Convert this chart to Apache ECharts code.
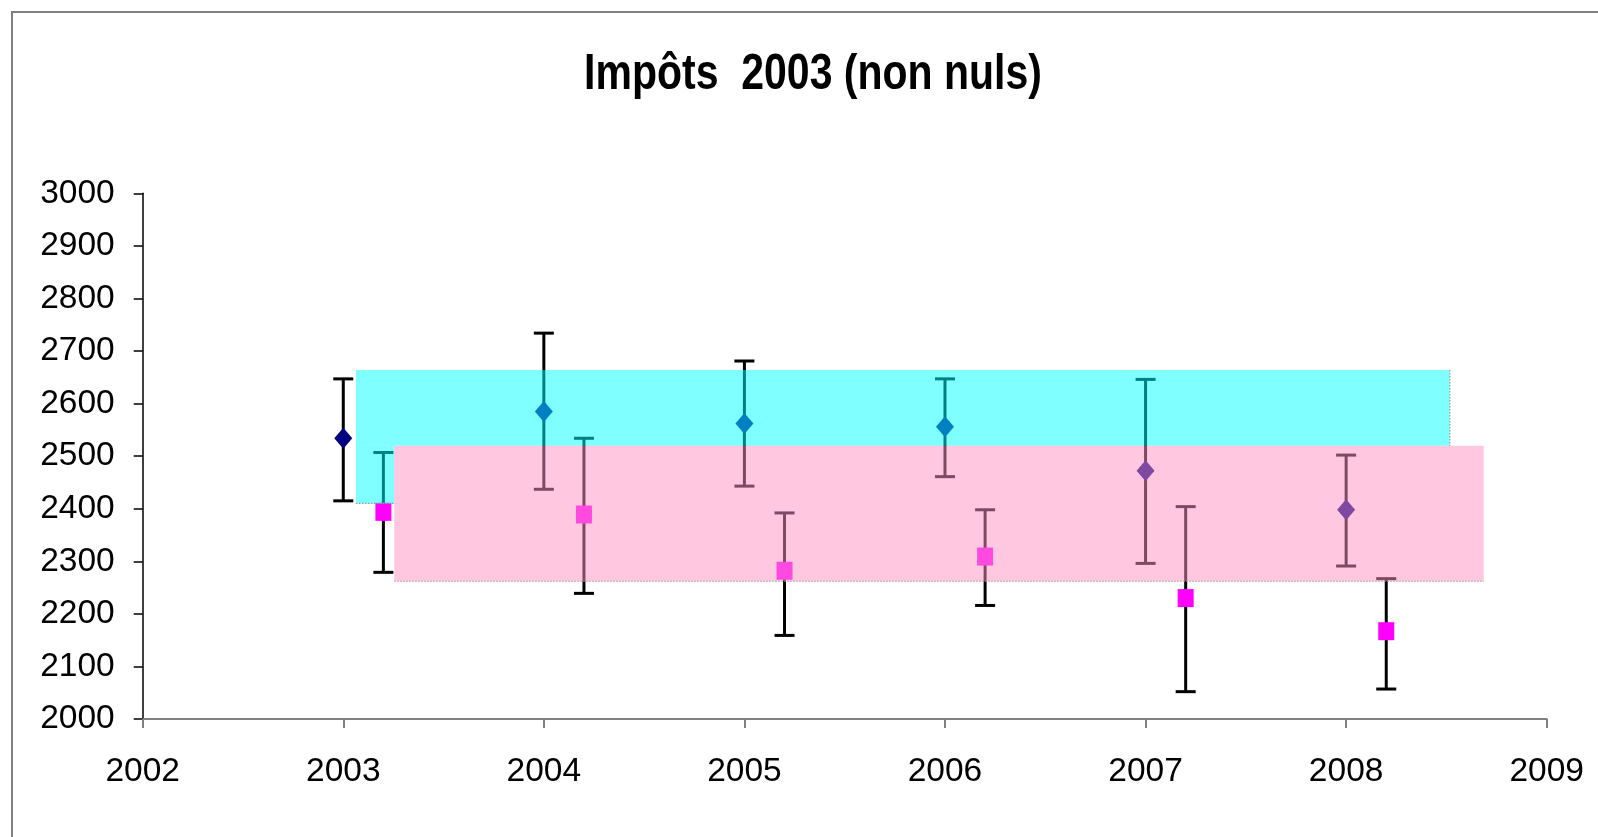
<!DOCTYPE html>
<html>
<head>
<meta charset="utf-8">
<script src="https://cdn.jsdelivr.net/npm/echarts@6/dist/echarts.min.js"></script>
<style>html,body{margin:0;padding:0;background:#fff}#c{width:1598px;height:837px}</style>
</head>
<body>
<div id="c"></div>
<script>
const titleText = 'Impôts  2003 (non nuls)';
const diamondX = [2003, 2004, 2005, 2006, 2007, 2008];
const diamondY = [2534, 2585, 2562, 2556, 2472, 2398];
const diamondHigh = [2647, 2734, 2681, 2647, 2646, 2502];
const diamondLow = [2415, 2437, 2443, 2461, 2296, 2291];
const squareX = [2003.2, 2004.2, 2005.2, 2006.2, 2007.2, 2008.2];
const squareY = [2394, 2389, 2282, 2309, 2230, 2167];
const squareHigh = [2507, 2534, 2392, 2398, 2404, 2267];
const squareLow = [2279, 2239, 2159, 2216, 2052, 2057];
// [xStart, xEnd, yLow, yHigh]
const cyanBand = [2003.063, 2008.517, 2410, 2664];
const pinkBand = [2003.254, 2008.686, 2262, 2520];

const FONT = '"Liberation Sans", Arial, sans-serif';
const chart = echarts.init(document.getElementById('c'), null, {renderer: 'canvas'});

function errRender(params, api) {
  const x = api.value(0), lo = api.value(1), hi = api.value(2);
  const pHi = api.coord([x, hi]);
  const pLo = api.coord([x, lo]);
  const hw = 10;
  const st = {stroke: '#000', lineWidth: 3};
  return {type: 'group', children: [
    {type: 'line', shape: {x1: pHi[0], y1: pHi[1], x2: pLo[0], y2: pLo[1]}, style: st},
    {type: 'line', shape: {x1: pHi[0]-hw, y1: pHi[1], x2: pHi[0]+hw, y2: pHi[1]}, style: st},
    {type: 'line', shape: {x1: pLo[0]-hw, y1: pLo[1], x2: pLo[0]+hw, y2: pLo[1]}, style: st}
  ]};
}

function rectFrom(x0, x1, y0, y1, api) {
  const a = api.coord([x0, y1]);
  const b = api.coord([x1, y0]);
  return {x: a[0], y: a[1], width: b[0]-a[0], height: b[1]-a[1]};
}

function bandRender(params, api) {
  const dash = {stroke: '#9a9a9a', lineWidth: 1.2, lineDash: [1.5, 1.5]};
  const cTop = rectFrom(cyanBand[0], cyanBand[1], pinkBand[3], cyanBand[3], api);
  const cLeft = rectFrom(cyanBand[0], pinkBand[0], cyanBand[2], pinkBand[3], api);
  const pink = rectFrom(pinkBand[0], pinkBand[1], pinkBand[2], pinkBand[3], api);
  const cBL = api.coord([cyanBand[0], cyanBand[2]]);
  const cBR = api.coord([pinkBand[0], cyanBand[2]]);
  const cRT = api.coord([cyanBand[1], cyanBand[3]]);
  const cRB = api.coord([cyanBand[1], pinkBand[3]]);
  const pBL = api.coord([pinkBand[0], pinkBand[2]]);
  const pBR = api.coord([pinkBand[1], pinkBand[2]]);
  return {type: 'group', children: [
    {type: 'rect', shape: cTop, style: {fill: 'rgba(0,255,255,0.5)'}},
    {type: 'rect', shape: cLeft, style: {fill: 'rgba(0,255,255,0.5)'}},
    {type: 'rect', shape: pink, style: {fill: 'rgba(255,145,193,0.5)'}},
    {type: 'line', shape: {x1: cBL[0], y1: cBL[1], x2: cBR[0], y2: cBR[1]}, style: dash},
    {type: 'line', shape: {x1: cRT[0], y1: cRT[1], x2: cRB[0], y2: cRB[1]}, style: dash},
    {type: 'line', shape: {x1: pBL[0], y1: pBL[1], x2: pBR[0], y2: pBR[1]}, style: dash}
  ]};
}

const option = {
  backgroundColor: '#fff',
  animation: false,
  graphic: [
    {type: 'rect', z: 100, shape: {x: 12, y: 12, width: 1700, height: 900},
     style: {fill: 'none', stroke: '#808080', lineWidth: 2}},
    {type: 'text', z: 100, x: 813, y: 100, scaleY: 1.22,
     style: {text: titleText, font: 'bold 41px ' + FONT, fill: '#000', textAlign: 'center', textVerticalAlign: 'bottom'}}
  ],
  grid: {left: 142.7, right: 51.3, top: 193.3, bottom: 118, containLabel: false},
  xAxis: {
    type: 'value', min: 2002, max: 2009, interval: 1,
    axisLine: {show: true, lineStyle: {color: '#808080', width: 2}},
    axisTick: {show: true, inside: false, length: 9, lineStyle: {color: '#808080', width: 2}},
    splitLine: {show: false},
    axisLabel: {color: '#000', fontSize: 33.5, fontFamily: FONT, margin: 36, formatter: v => String(v)}
  },
  yAxis: {
    type: 'value', min: 2000, max: 3000, interval: 100,
    axisLine: {show: true, lineStyle: {color: '#000', width: 1.5}},
    axisTick: {show: true, inside: false, length: 9, lineStyle: {color: '#000', width: 1.5}},
    splitLine: {show: false},
    axisLabel: {color: '#000', fontSize: 33.5, fontFamily: FONT, margin: 28, formatter: v => String(v)}
  },
  series: [
    {type: 'custom', z: 2, renderItem: errRender, data: diamondX.map((x, i) => [x, diamondLow[i], diamondHigh[i]])},
    {type: 'custom', z: 2, renderItem: errRender, data: squareX.map((x, i) => [x, squareLow[i], squareHigh[i]])},
    {type: 'scatter', z: 3, symbol: 'diamond', symbolSize: [18, 21],
     itemStyle: {color: '#000080', opacity: 1}, data: diamondX.map((x, i) => [x, diamondY[i]])},
    {type: 'scatter', z: 3, symbol: 'rect', symbolSize: [16, 18],
     itemStyle: {color: '#ff00ff', opacity: 1}, data: squareX.map((x, i) => [x, squareY[i]])},
    {type: 'custom', z: 5, renderItem: bandRender, data: [[0]], silent: true}
  ]
};
chart.setOption(option);
</script>
</body>
</html>
